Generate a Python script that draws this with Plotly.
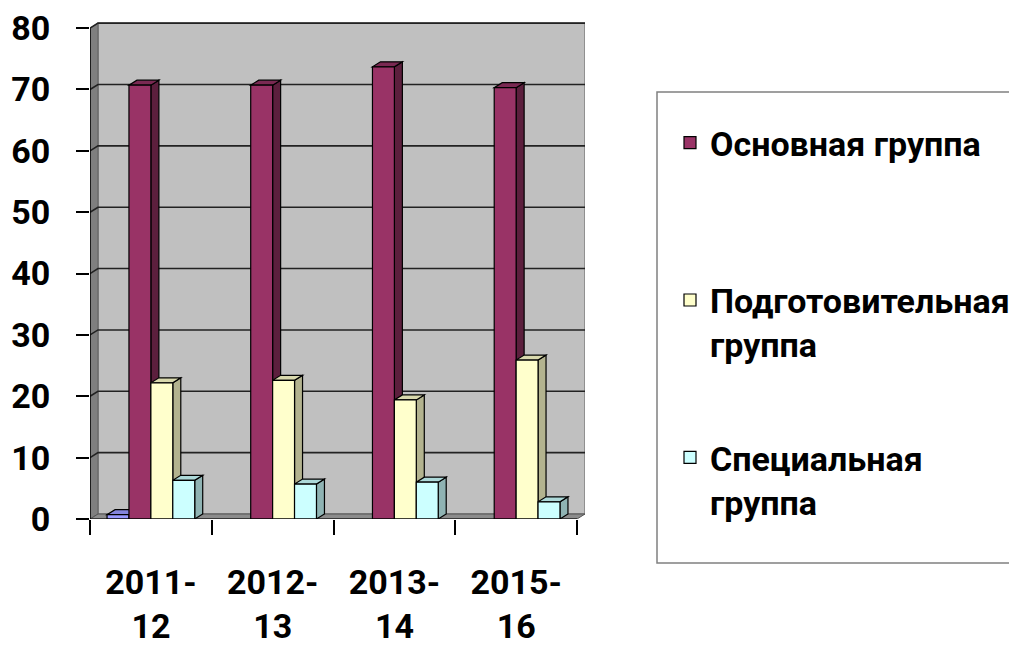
import plotly.graph_objects as go

# ---------------- data ----------------
categories = ["2011-<br>12", "2012-<br>13", "2013-<br>14", "2015-<br>16"]
series_names = ["Ряд 1", "Основная группа", "Подготовительная<br>группа", "Специальная<br>группа"]
series_in_legend = [False, True, True, True]
series1 = [0.7, 0, 0, 0]
osnovnaya = [70.7, 70.7, 73.7, 70.3]
podgotovitelnaya = [22.2, 22.6, 19.4, 25.9]
specialnaya = [6.3, 5.7, 6.0, 2.8]
y_ticks = [0, 10, 20, 30, 40, 50, 60, 70, 80]

series_values = [series1, osnovnaya, podgotovitelnaya, specialnaya]

# ---------------- style ----------------
front_colors = ["#9999FF", "#993366", "#FFFFCC", "#CCFFFF"]
side_colors = ["#6B6BB3", "#5C1F3D", "#B3B38F", "#8FB3B3"]
top_colors = ["#8585DD", "#7A2952", "#D9D9AD", "#ADD9D9"]
FONT = dict(family="Roboto, 'Open Sans', sans-serif", size=34, color="black", weight="bold")

W, H = 1017, 647
OFF = 8  # page body margin of the html page


def fx(px):
    return (px - OFF) / W


def fy(py):
    return 1 - (py - OFF) / H


X_PX = (90, 585)
Y_PX = (22, 519)
Y_MAX = 81.0
BARGAP = 0.28
N_SER = len(series_values)
BW = (1 - BARGAP) / N_SER
px_per_x = 121.75
px_per_y = (Y_PX[1] - Y_PX[0]) / Y_MAX
DX = 8 / px_per_x          # depth offset (x units)
DY = 5 / px_per_y          # depth offset (y units)
X_MIN = -0.5
X_MAX = len(categories) - 0.5 + DX
xpos = list(range(len(categories)))

fig = go.Figure()
for i, (name, vals) in enumerate(zip(series_names, series_values)):
    label = name + ("<br>\u00a0" if i == 1 else "")
    fig.add_trace(go.Bar(
        x=xpos, y=[v if v else None for v in vals], name=label,
        marker=dict(color=front_colors[i], line=dict(color="black", width=1.2)),
        showlegend=series_in_legend[i], legendgroup=f"g{i}",
    ))

shapes = []
# back wall
shapes.append(dict(type="rect", xref="x", yref="y", layer="below",
                   x0=X_MIN + DX, x1=X_MAX, y0=DY, y1=y_ticks[-1] + DY,
                   fillcolor="#C0C0C0", line=dict(color="#808080", width=1.5)))
# left side wall
shapes.append(dict(type="path", xref="x", yref="y", layer="below",
                   path=f"M {X_MIN},0 L {X_MIN},{y_ticks[-1]} L {X_MIN+DX},{y_ticks[-1]+DY} L {X_MIN+DX},{DY} Z",
                   fillcolor="#7F7F7F", line=dict(color="#606060", width=1)))
# floor
x_front_end = len(categories) - 0.5
shapes.append(dict(type="path", xref="x", yref="y", layer="below",
                   path=f"M {X_MIN},0 L {x_front_end},0 L {X_MAX},{DY} L {X_MIN+DX},{DY} Z",
                   fillcolor="#8C8C8C", line=dict(color="#555555", width=1)))
# gridlines (side wall + back wall)
for t in y_ticks[1:]:
    shapes.append(dict(type="path", xref="x", yref="y", layer="below",
                       path=f"M {X_MIN},{t} L {X_MIN+DX},{t+DY} L {X_MAX},{t+DY}",
                       line=dict(color="#222222", width=1.6)))
# bar depth faces
for c in xpos:
    for i, vals in enumerate(series_values):
        v = vals[c]
        if not v:
            continue
        xc = c + (i - (N_SER - 1) / 2) * BW
        l, r = xc - BW / 2, xc + BW / 2
        shapes.append(dict(type="path", xref="x", yref="y", layer="between",
                           path=f"M {r},0 L {r+DX},{DY} L {r+DX},{v+DY} L {r},{v} Z",
                           fillcolor=side_colors[i], line=dict(color="black", width=1.2)))
        shapes.append(dict(type="path", xref="x", yref="y", layer="between",
                           path=f"M {l},{v} L {r},{v} L {r+DX},{v+DY} L {l+DX},{v+DY} Z",
                           fillcolor=top_colors[i], line=dict(color="black", width=1.2)))
# axis lines
shapes.append(dict(type="line", xref="x", yref="y", layer="above",
                   x0=X_MIN, x1=X_MIN, y0=0, y1=y_ticks[-1], line=dict(color="black", width=1.5)))
shapes.append(dict(type="line", xref="x", yref="y", layer="above",
                   x0=X_MIN, x1=x_front_end, y0=0, y1=0, line=dict(color="black", width=1.2)))
# legend frame
shapes.append(dict(type="rect", xref="paper", yref="paper",
                   x0=fx(657), x1=1.05, y0=fy(563), y1=fy(92),
                   line=dict(color="#808080", width=1.5), fillcolor="rgba(0,0,0,0)"))

fig.update_layout(
    width=W, height=H,
    margin=dict(l=0, r=0, t=0, b=0, autoexpand=False),
    paper_bgcolor="white", plot_bgcolor="white",
    barmode="group", bargap=BARGAP, bargroupgap=0,
    font=FONT,
    shapes=shapes,
    showlegend=True,
    legend=dict(x=fx(670), y=fy(114), xanchor="left", yanchor="top",
                font=FONT, bgcolor="rgba(0,0,0,0)", borderwidth=0,
                tracegroupgap=66, valign="top", traceorder="grouped"),
    xaxis=dict(domain=[fx(X_PX[0]), fx(X_PX[1])], range=[X_MIN, X_MAX],
               automargin=False,
               tickmode="array", tickvals=xpos, ticktext=categories,
               ticks="", showgrid=False, zeroline=False, showline=False,
               ticklabelstandoff=40, tickfont=FONT,
               minor=dict(tickmode="array", tickvals=[c - 0.5 for c in xpos] + [x_front_end],
                          ticks="outside", ticklen=15, tickcolor="black", tickwidth=1.5,
                          showgrid=False)),
    yaxis=dict(domain=[fy(Y_PX[1]), fy(Y_PX[0])], range=[0, Y_MAX],
               automargin=False,
               tickmode="array", tickvals=y_ticks,
               ticks="outside", ticklen=13, tickcolor="black", tickwidth=1.5,
               showgrid=False, zeroline=False, showline=False,
               ticklabelstandoff=19, tickfont=FONT),
)

fig.write_html("out.html")
